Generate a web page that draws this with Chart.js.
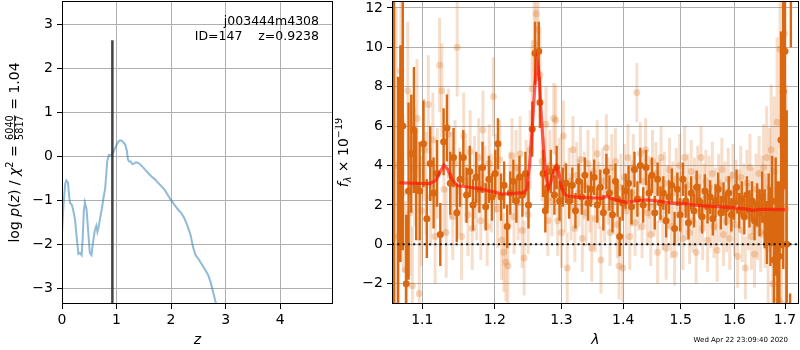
<!DOCTYPE html>
<html><head><meta charset="utf-8">
<script src="https://cdn.jsdelivr.net/npm/chart.js@4/dist/chart.umd.min.js"></script>
<style>
html,body{margin:0;padding:0;background:#fff;overflow:hidden;}
#wrap{position:relative;width:800px;height:350px;overflow:hidden;background:#fff;}
#c1{position:absolute;left:0;top:0;}
#c2{position:absolute;left:335px;top:0;}
</style></head>
<body><div id="wrap"><canvas id="c1" width="340" height="350"></canvas><canvas id="c2" width="465" height="350"></canvas></div>
<script>
// ---------- left panel data: log p(z) ----------
const pzZ = [0.00,0.03,0.06,0.08,0.11,0.13,0.15,0.18,0.21,0.24,0.27,0.30,0.33,0.36,0.38,0.40,0.42,0.45,0.48,0.51,0.54,0.57,0.60,0.63,0.65,0.67,0.70,0.73,0.76,0.79,0.81,0.83,0.86,0.89,0.92,0.95,0.98,1.01,1.04,1.07,1.10,1.13,1.16,1.19,1.21,1.23,1.26,1.29,1.32,1.35,1.38,1.42,1.47,1.52,1.58,1.64,1.70,1.76,1.82,1.88,1.94,2.00,2.06,2.12,2.18,2.24,2.30,2.36,2.40,2.45,2.50,2.56,2.62,2.68,2.73,2.77,2.81,2.85,2.90];
const pzLogP = [-1.75,-1.05,-0.62,-0.55,-0.60,-0.90,-1.07,-1.10,-1.25,-1.45,-1.85,-2.22,-2.20,-2.25,-1.85,-1.25,-1.05,-1.20,-1.70,-2.20,-2.25,-1.95,-1.70,-1.58,-1.72,-1.62,-1.40,-1.20,-0.95,-0.75,-0.45,-0.10,0.03,0.02,0.04,0.12,0.20,0.28,0.34,0.36,0.35,0.31,0.26,0.12,-0.08,-0.12,-0.12,-0.18,-0.17,-0.14,-0.14,-0.17,-0.23,-0.30,-0.38,-0.46,-0.52,-0.60,-0.68,-0.76,-0.88,-1.00,-1.10,-1.20,-1.28,-1.40,-1.58,-1.80,-2.05,-2.25,-2.33,-2.45,-2.57,-2.70,-2.88,-3.08,-3.28,-3.45,-3.65];
const zBest = 0.9238;
const zLineTop = 2.64;
const zTicks = [0,1,2,3,4];
const logpTicks = [-3,-2,-1,0,1,2,3];

// ---------- right panel data: spectrum ----------
const lamTicks = [1.1,1.2,1.3,1.4,1.5,1.6,1.7];
const fluxTicks = [-2,0,2,4,6,8,10,12];

const darkLam = [1.0633,1.0684,1.0715,1.0745,1.079,1.082,1.0855,1.089,
1.092,1.0965,1.1015,1.106,1.1105,1.115,1.1195,1.124,1.1285,1.133,
1.1375,1.142,1.1465,1.151,1.1555,1.16,1.1645,1.169,1.1735,1.178,
1.1825,1.187,1.1915,1.196,1.2005,1.2045,1.209,1.2135,1.218,1.2225,
1.227,1.2315,1.236,1.2405,1.245,1.2495,
1.2552,1.2594,1.265,1.2668,1.2715,1.275,
1.2785,1.2835,1.289,1.2925,1.297,1.302,1.307,1.312,1.317,1.322,
1.327,1.332,1.337,1.342,1.347,1.352,1.357,1.362,1.367,1.372,
1.377,1.382,1.387,1.3905,1.394,1.399,1.404,1.409,1.414,1.419,
1.424,1.429,1.434,1.439,1.444,1.449,1.454,1.459,1.464,1.469,
1.474,1.479,1.484,1.489,1.494,1.499,1.504,1.509,1.514,1.519,
1.524,1.529,1.534,1.539,1.544,1.549,1.554,1.559,1.564,1.569,
1.574,1.579,1.584,1.589,1.594,1.599,1.604,1.609,1.614,1.619,
1.624,1.629,1.634,1.639,1.644,1.649,1.654,1.659,
1.6635,1.667,1.6705,1.674,1.6775,1.681,1.6845,1.6885,
1.6918,1.6964,1.7,1.7035,1.7105,1.712];
const darkFlux = [15,-5,4.6,6.0,-2.0,2.7,4.6,5.8,
3.0,2.7,5.1,1.3,4.1,2.6,3.6,0.5,5.2,5.9,
3.1,4.4,1.6,3.3,4.4,2.5,3.7,2.0,3.4,2.8,
3.9,1.9,3.3,2.4,3.6,5.1,2.4,3.0,0.9,2.6,
3.2,2.2,3.4,2.5,3.6,2.0,
5.85,9.7,9.8,7.2,3.6,1.7,
2.9,3.7,2.5,3.9,2.2,2.9,3.1,2.2,3.0,1.7,
3.2,2.4,3.5,2.1,2.8,3.4,2.0,2.9,1.6,3.7,
2.6,1.5,3.2,2.3,0.4,2.1,2.7,3.1,1.9,3.8,
2.3,4.0,2.0,3.9,2.6,3.5,1.6,3.3,2.1,2.6,
1.2,2.4,3.0,0.8,2.8,1.5,3.3,2.2,1.1,2.6,
1.7,2.9,2.2,1.4,2.7,1.9,2.4,1.3,2.2,2.8,
1.6,2.3,1.8,2.6,1.5,2.1,2.9,1.7,2.3,1.4,
2.5,1.8,2.2,1.2,2.0,1.6,2.4,1.3,
0.6,1.8,0.9,2.2,-0.8,1.4,-0.3,-0.6,
5.3,7.75,9.8,0.0,-7,16];
const darkErr = [20,13.5,5.5,6.3,3.5,4.5,3.0,3.2,
2.8,2.5,2.2,2.0,1.9,1.8,1.7,1.6,1.7,1.7,
1.6,1.5,1.5,1.4,1.4,1.4,1.3,1.3,1.3,1.2,
1.3,1.2,1.2,1.2,1.2,1.3,1.2,1.2,1.1,1.1,
1.1,1.1,1.1,1.1,1.1,1.2,
1.4,1.6,1.5,1.3,1.2,1.1,
1.1,1.1,1.0,1.1,1.0,1.0,1.0,0.9,0.9,0.9,
0.9,0.9,0.9,0.9,0.9,0.9,0.9,0.9,0.9,0.9,
0.9,0.9,0.9,0.9,1.0,0.9,0.9,0.9,0.9,0.9,
0.9,0.9,0.9,0.9,0.9,0.9,0.85,0.85,0.85,0.85,
0.85,0.85,0.85,0.85,0.85,0.85,0.85,0.85,0.85,0.85,
0.85,0.85,0.85,0.85,0.85,0.85,0.85,0.85,0.85,0.85,
0.85,0.85,0.85,0.85,0.85,0.85,0.9,0.9,0.9,0.9,
0.95,0.95,1.0,1.0,1.1,1.2,1.3,1.5,
1.6,1.8,2.0,2.3,2.6,3.0,3.5,3.8,
5.5,9,7,6.8,4.5,6];

const lightLam = [1.066,1.069,1.072,1.075,1.078,1.081,1.084,1.087,1.090,1.093,
1.096,1.099,1.102,1.105,1.108,1.111,1.114,1.117,1.120,1.123,
1.126,1.129,1.132,1.135,1.138,1.141,1.144,1.147,1.150,1.153,
1.156,1.159,1.162,1.165,1.168,1.171,1.174,1.177,1.180,1.183,
1.186,1.189,1.192,1.195,1.198,1.201,1.204,1.207,1.210,1.213,
1.216,1.219,1.222,1.225,1.228,1.231,1.234,1.237,1.240,1.243,
1.246,1.249,1.252,1.255,1.258,1.261,1.264,1.267,1.270,1.273,
1.276,1.279,1.282,1.285,1.288,1.291,1.294,1.297,1.300,1.303,
1.306,1.309,1.312,1.315,1.318,1.321,1.324,1.327,1.330,1.333,
1.336,1.339,1.342,1.345,1.348,1.351,1.354,1.357,1.360,1.363,
1.366,1.369,1.372,1.375,1.378,1.381,1.384,1.387,1.390,1.393,
1.396,1.399,1.402,1.405,1.408,1.411,1.414,1.417,1.420,1.423,
1.426,1.429,1.432,1.435,1.438,1.441,1.444,1.447,1.450,1.453,
1.456,1.459,1.462,1.465,1.468,1.471,1.474,1.477,1.480,1.483,
1.486,1.489,1.492,1.495,1.498,1.501,1.504,1.507,1.510,1.513,
1.516,1.519,1.522,1.525,1.528,1.531,1.534,1.537,1.540,1.543,
1.546,1.549,1.552,1.555,1.558,1.561,1.564,1.567,1.570,1.573,
1.576,1.579,1.582,1.585,1.588,1.591,1.594,1.597,1.600,1.603,
1.606,1.609,1.612,1.615,1.618,1.621,1.624,1.627,1.630,1.633,
1.636,1.639,1.642,1.645,1.648,1.651,1.654,1.657,1.660,1.663,
1.666,1.669,1.672,1.675,1.678,1.681,1.684,1.687,1.690,1.693,
1.696,1.699,1.702];
const lightFlux = [4.0,0.4,8.8,2.6,-1.3,7.8,1.6,-2.1,3.9,6.4,
-2.5,1.7,4.8,3.1,7.1,2.4,5.3,0.4,3.6,9.1,
7.8,2.8,0.6,5.6,3.5,1.4,4.1,10.0,2.7,0.4,
5.5,3.2,1.5,4.7,0.8,3.4,2.2,4.4,1.2,5.8,
3.0,0.9,4.1,2.6,7.5,3.6,1.8,4.3,0.2,-0.4,
-0.9,-1.1,2.8,4.5,1.4,3.9,2.1,4.6,0.7,-0.7,
3.4,1.5,4.8,7.9,10.2,11.7,10.9,8.6,4.2,3.5,
6.1,1.2,4.0,2.2,6.4,6.3,1.2,3.6,0.6,5.5,
2.4,-1.2,3.2,1.9,4.8,0.8,3.5,2.6,4.3,0.3,
3.0,1.6,4.1,2.3,-0.2,3.7,1.3,4.6,2.5,-0.8,
3.2,1.8,4.9,2.7,0.6,3.9,2.2,4.2,1.0,-1.1,
2.9,-1.2,3.4,1.7,4.4,0.4,2.6,3.9,1.1,7.7,
2.3,4.6,0.9,3.2,4.8,1.6,2.9,0.5,4.2,2.0,
3.6,-0.4,2.7,4.4,1.3,3.1,-0.2,2.4,3.8,0.9,
2.6,-0.5,3.3,1.5,4.0,2.1,0.3,4.4,1.8,3.0,
0.6,3.7,1.2,2.8,-0.4,3.4,1.6,4.4,0.8,2.5,
3.2,0.2,2.9,1.4,3.6,0.9,2.3,-0.3,3.0,1.7,
3.8,0.5,2.6,1.2,3.3,0.3,2.1,3.5,1.0,2.7,
-0.6,2.2,3.4,0.7,2.5,-1.2,3.1,1.4,3.9,0.4,
2.2,-0.5,2.8,1.0,3.6,0.6,2.4,3.9,1.2,4.4,
-0.2,2.9,4.8,-2.0,3.7,-1.1,6.2,-2.8,9.9,-3.0,
10.0,10.7,1.8];
const lightErr = [8,6,4.5,4,3.5,3.5,3.2,3,3,3,
2.8,2.8,2.6,2.6,2.5,2.5,2.4,2.4,2.3,2.4,
2.4,2.3,2.3,2.3,2.2,2.2,2.2,2.5,2.2,2.2,
2.2,2.1,2.1,2.1,2.1,2.1,2.0,2.0,2.0,2.0,
2.0,2.0,2.0,2.0,2.0,2.0,2.0,2.0,2.0,2.0,
2.0,2.0,1.9,1.9,1.9,1.9,1.9,1.9,1.9,1.9,
1.9,2.0,2.0,2.2,2.2,2.3,2.3,2.2,2.0,1.9,
1.9,1.8,1.8,1.8,1.8,1.8,1.8,1.8,1.8,1.8,
1.8,1.8,1.7,1.7,1.7,1.7,1.7,1.7,1.7,1.7,
1.7,1.7,1.7,1.7,1.7,1.7,1.7,1.7,1.7,1.7,
1.7,1.7,1.7,1.7,1.7,1.7,1.7,1.7,1.7,1.7,
1.7,1.7,1.7,1.7,1.7,1.7,1.7,1.7,1.7,1.5,
1.6,1.6,1.6,1.6,1.6,1.6,1.6,1.6,1.6,1.6,
1.6,1.6,1.6,1.6,1.6,1.6,1.6,1.6,1.6,1.6,
1.6,1.6,1.6,1.6,1.6,1.6,1.6,1.6,1.6,1.6,
1.6,1.6,1.6,1.6,1.6,1.6,1.6,1.6,1.6,1.6,
1.6,1.6,1.6,1.6,1.6,1.6,1.6,1.6,1.6,1.6,
1.6,1.6,1.6,1.6,1.6,1.6,1.6,1.6,1.6,1.6,
1.6,1.6,1.6,1.6,1.6,1.6,1.7,1.7,1.7,1.7,
1.7,1.7,1.8,1.8,1.9,2.0,2.1,2.2,2.4,2.6,
2.8,3.0,3.3,3.5,3.8,4.0,4.3,4.6,5.0,5.3,
5.6,6.0,6.3];

const modelLam = [1.070,1.090,1.110,1.118,1.124,1.129,1.134,1.140,1.147,1.160,1.180,1.200,1.210,1.225,1.242,1.247,1.251,1.255,1.259,1.262,1.265,1.268,1.272,1.276,1.280,1.284,1.288,1.292,1.296,1.300,1.305,1.310,1.330,1.355,1.365,1.373,1.380,1.395,1.406,1.420,1.440,1.460,1.480,1.500,1.530,1.560,1.590,1.620,1.636,1.650,1.670,1.700];
const modelFlux = [3.12,3.10,3.08,3.25,3.70,4.02,3.80,3.30,2.97,2.92,2.80,2.65,2.55,2.58,2.62,2.80,4.00,5.80,8.00,9.30,8.80,7.00,5.00,3.40,2.85,3.20,3.70,3.95,3.60,2.90,2.55,2.45,2.38,2.35,2.33,2.45,2.32,2.20,2.12,2.20,2.25,2.20,2.10,2.08,1.98,1.92,1.87,1.80,1.72,1.78,1.77,1.76];

const lamRange = [1.0607, 1.7288];
const fluxRange = [-3.03, 12.35];

// ---------- styling ----------
const FONT = '"DejaVu Sans", sans-serif';
Chart.defaults.font.family = FONT;
Chart.defaults.font.size = 14;
Chart.defaults.color = '#000';
const DARK = 'rgb(218,104,16)';
const LIGHT_PT = 'rgba(218,104,16,0.26)';
const LIGHT_BAR = 'rgba(218,104,16,0.22)';
const GRID = '#b0b0b0';

const fmtInt = v => String(v).replace('-', '\u2212');
const pts = (xs, ys) => xs.map((x, i) => ({x: x, y: ys[i]}));
const bars = (xs, ys, es) => xs.flatMap((x, i) => [{x: x, y: ys[i] - es[i]}, {x: x, y: ys[i] + es[i]}, {x: x, y: null}]);

function axisCommon(tickVals, fmt, pad, fitFn) {
  return {
    afterBuildTicks: s => { s.ticks = tickVals.map(v => ({value: v})); },
    afterFit: s => { fitFn(s); s.paddingTop = 0; s.paddingBottom = 0; s.paddingLeft = 0; s.paddingRight = 0; },
    grid: {color: GRID, lineWidth: 1, tickColor: '#000', tickLength: 5, drawTicks: true},
    border: {display: false},
    ticks: {font: {size: 14, family: FONT}, color: '#000', autoSkip: false, maxRotation: 0, minRotation: 0, includeBounds: false, padding: pad, callback: v => fmt(v)}
  };
}

function drawRotated(ctx, baseX, centerY, parts) {
  ctx.save();
  ctx.translate(baseX, centerY);
  ctx.rotate(-Math.PI / 2);
  ctx.fillStyle = '#000';
  ctx.textBaseline = 'alphabetic';
  ctx.textAlign = 'left';
  let total = 0;
  for (const p of parts) {
    ctx.font = p.f;
    p.w = p.frac ? Math.max(ctx.measureText(p.num).width, ctx.measureText(p.den).width) + 2 : ctx.measureText(p.t).width;
    total += p.w;
  }
  let x = -total / 2;
  for (const p of parts) {
    ctx.font = p.f;
    if (p.frac) {
      ctx.textAlign = 'center';
      ctx.fillText(p.num, x + p.w / 2, -6.3);
      ctx.fillText(p.den, x + p.w / 2, 4.2);
      ctx.textAlign = 'left';
      ctx.fillRect(x + 1, -4.8, p.w - 2, 0.8);
    } else {
      ctx.fillText(p.t, x, p.dy || 0);
    }
    x += p.w;
  }
  ctx.restore();
}

function frame(chart) {
  const a = chart.chartArea, ctx = chart.ctx;
  ctx.save();
  ctx.strokeStyle = '#000';
  ctx.lineWidth = 1;
  ctx.strokeRect(Math.round(a.left) + 0.5, Math.round(a.top) + 0.5, Math.round(a.right - a.left) - 1, Math.round(a.bottom - a.top) - 1);
  ctx.restore();
}

const N = '14px ' + FONT, I = 'italic 14px ' + FONT, S = '9.7px ' + FONT, SI = 'italic 9.7px ' + FONT;

const leftDecor = {
  id: 'leftDecor',
  afterDraw(chart) {
    frame(chart);
    const ctx = chart.ctx, a = chart.chartArea;
    ctx.save();
    ctx.fillStyle = '#000';
    ctx.font = '12.5px ' + FONT;
    ctx.textAlign = 'right';
    ctx.textBaseline = 'alphabetic';
    ctx.fillText('j003444m4308', 319, 25);
    ctx.fillText('ID=147    z=0.9238', 319, 39.5);
    ctx.font = I;
    ctx.textAlign = 'center';
    ctx.fillText('z', (a.left + a.right) / 2, 344);
    ctx.restore();
    drawRotated(ctx, 19, (a.top + a.bottom) / 2, [
      {t: 'log ', f: N}, {t: 'p', f: I}, {t: '(', f: N}, {t: 'z', f: I}, {t: ') / ', f: N},
      {t: '\u03c7', f: I}, {t: '2', f: S, dy: -6}, {t: ' = ', f: N},
      {frac: true, num: '6040', den: '5817', f: S}, {t: ' = 1.04', f: N}
    ]);
  }
};

const rightDecor = {
  id: 'rightDecor',
  afterDraw(chart) {
    frame(chart);
    const ctx = chart.ctx, a = chart.chartArea;
    ctx.save();
    ctx.fillStyle = '#000';
    ctx.font = I;
    ctx.textAlign = 'center';
    ctx.textBaseline = 'alphabetic';
    ctx.fillText('\u03bb', (a.left + a.right) / 2, 344);
    ctx.font = '7px ' + FONT;
    ctx.textAlign = 'right';
    ctx.fillText('Wed Apr 22 23:09:40 2020', 453, 342);
    ctx.restore();
    drawRotated(ctx, 13, (a.top + a.bottom) / 2, [
      {t: 'f', f: I}, {t: '\u03bb', f: SI, dy: 3}, {t: ' \u00d7 10', f: N}, {t: '\u221219', f: S, dy: -6}
    ]);
  }
};

const common = {
  responsive: false, animation: false, events: [],
  plugins: {legend: {display: false}, tooltip: {enabled: false}},
};

// ---------- left chart ----------
new Chart(document.getElementById('c1'), {
  type: 'line',
  data: {datasets: [
    {data: [{x: zBest, y: -3.5}, {x: zBest, y: zLineTop}], borderColor: 'rgba(45,45,45,0.9)', borderWidth: 2.5, pointRadius: 0, clip: 0, order: 0},
    {data: pts(pzZ, pzLogP), borderColor: 'rgba(31,119,180,0.5)', borderWidth: 2, pointRadius: 0, tension: 0, clip: 0, order: 1}
  ]},
  options: Object.assign({}, common, {
    layout: {padding: {top: 1, right: 7, left: 0, bottom: 0}, autoPadding: false},
    scales: {
      x: Object.assign(axisCommon(zTicks, fmtInt, 3, s => { s.height = 46; }), {type: 'linear', min: 0, max: 4.97}),
      y: Object.assign(axisCommon(logpTicks, fmtInt, 4, s => { s.width = 62; }), {type: 'linear', min: -3.36, max: 3.53})
    }
  }),
  plugins: [leftDecor]
});

// ---------- right chart ----------
new Chart(document.getElementById('c2'), {
  type: 'line',
  data: {datasets: [
    {data: [{x: lamRange[0], y: 0}, {x: lamRange[1], y: 0}], borderColor: '#111', borderWidth: 2, borderDash: [2, 3.3], pointRadius: 0, clip: 0, order: 0},
    {data: pts(modelLam, modelFlux), borderColor: 'rgba(255,20,10,0.68)', borderWidth: 3.2, pointRadius: 0, tension: 0, clip: 0, order: 1},
    {data: pts(darkLam, darkFlux), showLine: false, pointRadius: 3.5, pointBackgroundColor: DARK, pointBorderWidth: 0, pointBorderColor: 'rgba(0,0,0,0)', clip: 0, order: 2},
    {data: bars(darkLam, darkFlux, darkErr), borderColor: DARK, borderWidth: 2.4, pointRadius: 0, spanGaps: false, clip: 0, order: 3},
    {data: pts(lightLam, lightFlux), showLine: false, pointRadius: 3.5, pointBackgroundColor: LIGHT_PT, pointBorderWidth: 0, pointBorderColor: 'rgba(0,0,0,0)', clip: 0, order: 4},
    {data: bars(lightLam, lightFlux, lightErr), borderColor: LIGHT_BAR, borderWidth: 3, pointRadius: 0, spanGaps: false, clip: 0, order: 5, segment: {borderColor: () => LIGHT_BAR}}
  ]},
  options: Object.assign({}, common, {
    layout: {padding: {top: 1, right: 1, left: 0, bottom: 0}, autoPadding: false},
    scales: {
      x: Object.assign(axisCommon(lamTicks, v => Number(v).toFixed(1), 3, s => { s.height = 46; }), {type: 'logarithmic', min: lamRange[0], max: lamRange[1]}),
      y: Object.assign(axisCommon(fluxTicks, fmtInt, 4, s => { s.width = 57; }), {type: 'linear', min: fluxRange[0], max: fluxRange[1]})
    }
  }),
  plugins: [rightDecor]
});
</script>
</body></html>
